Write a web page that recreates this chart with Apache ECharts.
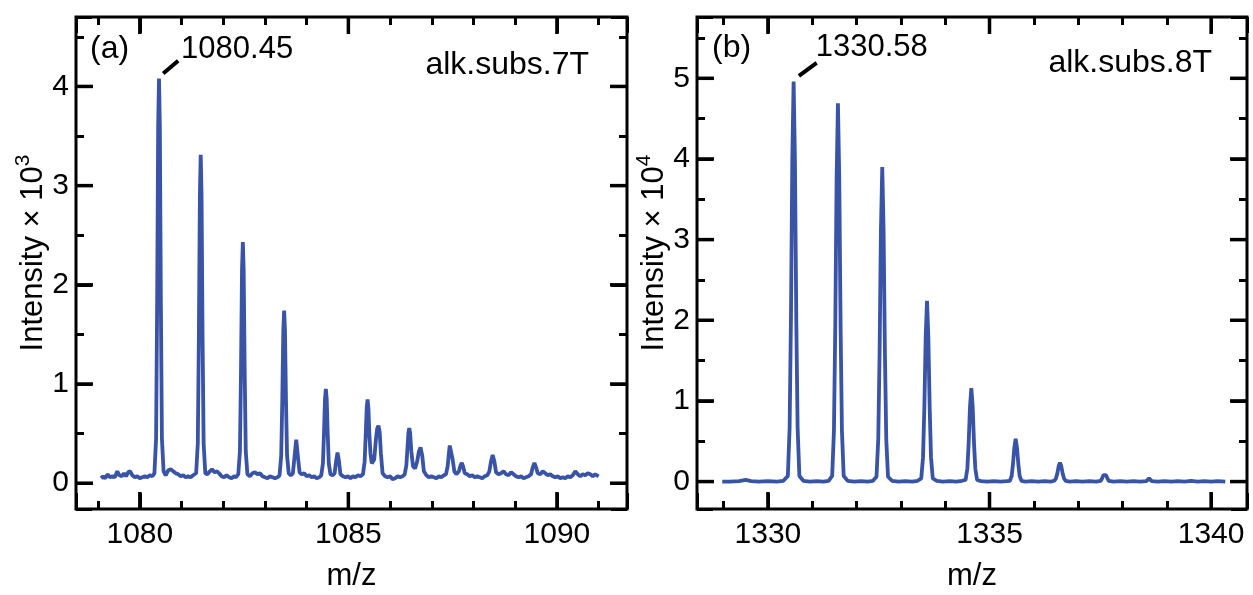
<!DOCTYPE html>
<html><head><meta charset="utf-8">
<script src="https://cdn.jsdelivr.net/npm/echarts@6/dist/echarts.min.js"></script>
<style>html,body{margin:0;padding:0;background:#fff}#c{width:1253px;height:595px}</style>
</head><body><div id="c"></div>
<script>
// ---------- data (m/z, intensity) ----------
const spectrumA = [
[1079.07,0.05],[1079.12,0.07],[1079.17,0.05],[1079.23,0.09],[1079.28,0.06],[1079.34,0.07],[1079.40,0.06],[1079.46,0.12],[1079.51,0.08],[1079.57,0.07],[1079.62,0.10],[1079.67,0.07],[1079.72,0.11],[1079.77,0.12],[1079.82,0.08],[1079.88,0.06],[1079.94,0.07],[1080.00,0.05],[1080.06,0.06],[1080.12,0.07],[1080.18,0.06],[1080.24,0.08],[1080.30,0.07],
[1080.35,0.10],[1080.39,0.45],[1080.415,1.80],[1080.44,3.60],[1080.46,4.08],[1080.48,3.60],[1080.505,1.80],[1080.53,0.45],[1080.57,0.12],
[1080.62,0.08],[1080.68,0.13],[1080.74,0.14],[1080.80,0.12],[1080.86,0.10],[1080.92,0.09],[1080.98,0.07],[1081.04,0.08],[1081.10,0.06],[1081.16,0.07],[1081.22,0.06],[1081.28,0.08],
[1081.35,0.10],[1081.39,0.40],[1081.415,1.45],[1081.44,2.90],[1081.46,3.31],[1081.48,2.90],[1081.505,1.45],[1081.53,0.40],[1081.57,0.10],
[1081.62,0.09],[1081.68,0.12],[1081.73,0.14],[1081.79,0.11],[1081.85,0.12],[1081.90,0.10],[1081.96,0.07],[1082.02,0.06],[1082.08,0.08],[1082.14,0.06],[1082.20,0.05],[1082.26,0.07],[1082.31,0.06],
[1082.36,0.09],[1082.40,0.32],[1082.425,1.10],[1082.45,2.15],[1082.47,2.43],[1082.49,2.15],[1082.515,1.10],[1082.54,0.32],[1082.58,0.09],
[1082.64,0.07],[1082.70,0.10],[1082.76,0.11],[1082.82,0.09],[1082.88,0.10],[1082.94,0.07],[1083.00,0.06],[1083.06,0.05],[1083.12,0.07],[1083.18,0.06],[1083.24,0.05],[1083.30,0.06],
[1083.35,0.08],[1083.39,0.28],[1083.415,0.82],[1083.44,1.54],[1083.46,1.74],[1083.48,1.54],[1083.505,0.82],[1083.53,0.28],[1083.57,0.10],
[1083.62,0.08],[1083.67,0.10],[1083.71,0.27],[1083.75,0.44],[1083.79,0.27],[1083.83,0.11],
[1083.88,0.09],[1083.94,0.10],[1084.00,0.07],[1084.06,0.08],[1084.12,0.06],[1084.18,0.07],[1084.24,0.05],[1084.30,0.06],
[1084.35,0.08],[1084.39,0.20],[1084.415,0.50],[1084.44,0.85],[1084.46,0.95],[1084.48,0.85],[1084.505,0.50],[1084.53,0.20],[1084.57,0.09],
[1084.62,0.08],[1084.67,0.10],[1084.705,0.22],[1084.74,0.31],[1084.775,0.22],[1084.81,0.09],
[1084.87,0.07],[1084.93,0.06],[1084.99,0.07],[1085.05,0.05],[1085.11,0.07],[1085.17,0.06],[1085.23,0.08],[1085.29,0.07],
[1085.35,0.09],[1085.39,0.22],[1085.415,0.48],[1085.44,0.76],[1085.46,0.845],[1085.48,0.76],[1085.505,0.48],[1085.53,0.30],[1085.56,0.20],
[1085.59,0.18],[1085.62,0.24],[1085.66,0.44],[1085.69,0.55],[1085.72,0.58],[1085.75,0.52],[1085.78,0.30],[1085.82,0.10],
[1085.88,0.07],[1085.94,0.06],[1086.00,0.07],[1086.06,0.04],[1086.12,0.05],[1086.18,0.07],[1086.24,0.06],[1086.30,0.07],
[1086.35,0.09],[1086.39,0.18],[1086.42,0.38],[1086.44,0.51],[1086.46,0.555],[1086.48,0.51],[1086.51,0.32],[1086.55,0.17],[1086.60,0.15],
[1086.65,0.22],[1086.69,0.32],[1086.73,0.36],[1086.77,0.28],[1086.81,0.12],
[1086.87,0.08],[1086.93,0.06],[1086.99,0.07],[1087.05,0.06],[1087.11,0.05],[1087.17,0.07],[1087.23,0.06],[1087.29,0.08],
[1087.34,0.09],[1087.38,0.17],[1087.41,0.30],[1087.43,0.38],[1087.45,0.40],[1087.47,0.37],[1087.50,0.24],[1087.54,0.12],[1087.59,0.09],
[1087.65,0.12],[1087.69,0.18],[1087.72,0.205],[1087.75,0.17],[1087.79,0.10],
[1087.85,0.09],[1087.91,0.07],[1087.97,0.08],[1088.03,0.06],[1088.09,0.07],[1088.15,0.06],[1088.21,0.05],[1088.27,0.07],[1088.33,0.08],
[1088.38,0.12],[1088.42,0.22],[1088.46,0.285],[1088.50,0.22],[1088.54,0.11],
[1088.60,0.09],[1088.66,0.10],[1088.72,0.12],[1088.78,0.09],[1088.84,0.08],[1088.90,0.11],[1088.96,0.09],[1089.02,0.07],[1089.08,0.06],[1089.14,0.07],[1089.20,0.05],[1089.26,0.06],[1089.32,0.07],
[1089.38,0.09],[1089.42,0.16],[1089.46,0.205],[1089.50,0.16],[1089.54,0.10],
[1089.60,0.09],[1089.66,0.12],[1089.72,0.10],[1089.78,0.08],[1089.84,0.09],[1089.90,0.07],[1089.96,0.06],[1090.02,0.07],[1090.08,0.05],[1090.14,0.06],[1090.20,0.05],[1090.26,0.07],[1090.32,0.06],[1090.38,0.08],[1090.44,0.12],[1090.50,0.09],[1090.56,0.07],[1090.62,0.09],[1090.68,0.08],[1090.74,0.10],[1090.80,0.09],[1090.86,0.07],[1090.92,0.09],[1091.00,0.07]
];

const spectrumB = [
[1328.97,0.00],[1329.15,0.00],[1329.35,0.005],[1329.50,0.02],[1329.62,0.005],[1329.80,0.00],[1330.00,0.005],[1330.20,0.00],[1330.35,0.01],
[1330.45,0.07],[1330.49,0.67],[1330.52,2.03],[1330.55,3.97],[1330.58,4.96],[1330.61,3.97],[1330.64,2.03],[1330.67,0.67],[1330.71,0.07],
[1330.80,0.01],[1330.95,0.00],[1331.10,0.005],[1331.25,0.00],[1331.37,0.01],
[1331.45,0.07],[1331.49,0.63],[1331.52,1.92],[1331.55,3.75],[1331.58,4.69],[1331.61,3.75],[1331.64,1.92],[1331.67,0.63],[1331.71,0.07],
[1331.80,0.01],[1331.95,0.00],[1332.10,0.005],[1332.25,0.00],[1332.37,0.01],
[1332.45,0.06],[1332.49,0.53],[1332.52,1.60],[1332.55,3.12],[1332.58,3.90],[1332.61,3.12],[1332.64,1.60],[1332.67,0.53],[1332.71,0.06],
[1332.80,0.01],[1332.95,0.00],[1333.10,0.005],[1333.25,0.00],[1333.38,0.01],
[1333.46,0.04],[1333.50,0.30],[1333.53,0.92],[1333.56,1.79],[1333.59,2.24],[1333.62,1.79],[1333.65,0.92],[1333.68,0.30],[1333.72,0.04],
[1333.81,0.01],[1333.95,0.00],[1334.10,0.005],[1334.25,0.00],[1334.38,0.01],
[1334.46,0.02],[1334.50,0.16],[1334.53,0.48],[1334.56,0.93],[1334.59,1.16],[1334.62,0.93],[1334.65,0.48],[1334.68,0.16],[1334.72,0.02],
[1334.81,0.005],[1334.95,0.00],[1335.10,0.005],[1335.25,0.00],[1335.38,0.005],
[1335.46,0.01],[1335.50,0.07],[1335.53,0.22],[1335.56,0.42],[1335.59,0.53],[1335.62,0.42],[1335.65,0.22],[1335.68,0.07],[1335.72,0.01],
[1335.81,0.00],[1335.95,0.005],[1336.10,0.00],[1336.25,0.005],[1336.38,0.00],
[1336.46,0.01],[1336.50,0.04],[1336.53,0.10],[1336.56,0.19],[1336.59,0.235],[1336.62,0.19],[1336.65,0.10],[1336.68,0.04],[1336.72,0.01],
[1336.81,0.00],[1336.95,0.005],[1337.10,0.00],[1337.25,0.005],[1337.40,0.00],
[1337.51,0.01],[1337.54,0.04],[1337.57,0.08],[1337.60,0.10],[1337.63,0.08],[1337.66,0.04],[1337.69,0.01],
[1337.80,0.00],[1337.95,0.005],[1338.10,0.00],[1338.25,0.005],[1338.40,0.00],
[1338.54,0.005],[1338.57,0.02],[1338.60,0.04],[1338.63,0.02],[1338.66,0.005],
[1338.80,0.00],[1338.95,0.005],[1339.10,0.00],[1339.25,0.005],[1339.40,0.00],[1339.55,0.01],[1339.70,0.00],[1339.85,0.005],[1340.00,0.00],[1340.15,0.005],[1340.32,0.00]
];

const xTicksA = [1080, 1085, 1090];
const yTicksA = [0, 1, 2, 3, 4];
const xTicksB = [1330, 1335, 1340];
const yTicksB = [0, 1, 2, 3, 4, 5];
const xRangeA = [1078.47, 1091.68], yRangeA = [-0.26, 4.70];
const xRangeB = [1328.40, 1340.81], yRangeB = [-0.34, 5.76];
const peakLabelA = '1080.45';
const peakLabelB = '1330.58';
const panelTagA = '(a)', panelTagB = '(b)';
const sampleA = 'alk.subs.7T', sampleB = 'alk.subs.8T';
const xTitle = 'm/z';
const yExpA = '3', yExpB = '4';

// ---------- chart ----------
const FONT = '"Liberation Sans", Arial, sans-serif';
const BLUE = '#3953a6';
const chart = echarts.init(document.getElementById('c'));
const plain = v => String(v);

function xAxis(grid, range, ticks, opposite) {
  return {
    type: 'value', gridIndex: grid, min: range[0], max: range[1], splitNumber: 3,
    position: opposite ? 'top' : 'bottom',
    axisLine: {show: false, onZero: false}, splitLine: {show: false},
    axisTick: {show: true, inside: true, length: 16, lineStyle: {color: '#000', width: 3}},
    minorTick: {show: true, splitNumber: 5, length: 8, lineStyle: {color: '#000', width: 3}},
    axisLabel: {show: !opposite, customValues: ticks, margin: 11, color: '#000',
                fontSize: 30, fontFamily: FONT, formatter: plain}
  };
}
function yAxis(grid, range, split, ticks, opposite) {
  return {
    type: 'value', gridIndex: grid, min: range[0], max: range[1], splitNumber: split,
    position: opposite ? 'right' : 'left',
    axisLine: {show: false, onZero: false}, splitLine: {show: false},
    axisTick: {show: true, inside: true, length: 16, lineStyle: {color: '#000', width: 3}},
    minorTick: {show: true, splitNumber: 2, length: 8, lineStyle: {color: '#000', width: 3}},
    axisLabel: {show: !opposite, customValues: ticks, margin: 7, color: '#000',
                fontSize: 30, fontFamily: FONT, formatter: plain}
  };
}
function spectrum(xi, yi, data, lineFrom, lineTo, labelAt, labelText) {
  return {
    type: 'line', xAxisIndex: xi, yAxisIndex: yi, data: data,
    showSymbol: false, animation: false,
    lineStyle: {color: BLUE, width: 3.8}, itemStyle: {color: BLUE},
    markLine: {
      silent: true, animation: false, symbol: ['none', 'none'],
      label: {show: false},
      lineStyle: {color: '#000', width: 4, type: 'solid'},
      data: [[{coord: lineFrom}, {coord: lineTo}]]
    },
    markPoint: {
      silent: true, animation: false, symbol: 'circle', symbolSize: 0,
      itemStyle: {color: 'rgba(0,0,0,0)'},
      label: {show: true, position: 'right', distance: 0, formatter: labelText,
              color: '#000', fontSize: 31, fontFamily: FONT},
      data: [{coord: labelAt}]
    }
  };
}
// major ticks (inward, on all four sides) placed through the axes' scales
function majorTicks(xi, yi, xTicks, yTicks, xr, yr) {
  const data = xTicks.map(v => [v, 0]).concat(yTicks.map(v => [v, 1]));
  return {
    type: 'custom', xAxisIndex: xi, yAxisIndex: yi, silent: true, animation: false, z: 5,
    clip: false, data: data,
    renderItem: function (params, api) {
      const v = api.value(0), kind = api.value(1), L = 17;
      const st = {stroke: '#000', lineWidth: 3.5, fill: null};
      if (kind === 0) {
        const b = api.coord([v, yr[0]]), t = api.coord([v, yr[1]]);
        return {type: 'group', children: [
          {type: 'line', shape: {x1: b[0], y1: b[1], x2: b[0], y2: b[1] - L}, style: st},
          {type: 'line', shape: {x1: t[0], y1: t[1], x2: t[0], y2: t[1] + L}, style: st}
        ]};
      }
      const l = api.coord([xr[0], v]), r = api.coord([xr[1], v]);
      return {type: 'group', children: [
        {type: 'line', shape: {x1: l[0], y1: l[1], x2: l[0] + L, y2: l[1]}, style: st},
        {type: 'line', shape: {x1: r[0], y1: r[1], x2: r[0] - L, y2: r[1]}, style: st}
      ]};
    }
  };
}
function txt(x, y, text, size, align) {
  return {type: 'text', x: x, y: y, silent: true,
    style: {text: text, fontSize: size, fontFamily: FONT, fill: '#000', align: align, verticalAlign: 'middle'}};
}
function yTitle(x, y, exp) {
  return {type: 'text', x: x, y: y, rotation: Math.PI / 2, silent: true,
    style: {text: '{m|Intensity × 10}{s|' + exp + '}', align: 'center', verticalAlign: 'middle',
      fill: '#000', fontSize: 31, fontFamily: FONT,
      rich: {
        m: {fontSize: 31, fontFamily: FONT, fill: '#000', lineHeight: 40},
        s: {fontSize: 21, fontFamily: FONT, fill: '#000', lineHeight: 20, verticalAlign: 'top'}
      }}};
}

const gs = {show: true, borderColor: '#000', borderWidth: 3};

chart.setOption({
  animation: false,
  grid: [
    Object.assign({left: 76, top: 17, width: 551, height: 492}, gs),
    Object.assign({left: 697, top: 17, width: 550, height: 492}, gs)
  ],
  xAxis: [
    xAxis(0, xRangeA, xTicksA, false),
    xAxis(0, xRangeA, xTicksA, true),
    xAxis(1, xRangeB, xTicksB, false),
    xAxis(1, xRangeB, xTicksB, true)
  ],
  yAxis: [
    yAxis(0, yRangeA, 5, yTicksA, false),
    yAxis(0, yRangeA, 5, yTicksA, true),
    yAxis(1, yRangeB, 6, yTicksB, false),
    yAxis(1, yRangeB, 6, yTicksB, true)
  ],
  series: [
    spectrum(0, 0, spectrumA, [1080.56, 4.13], [1080.92, 4.26], [1080.99, 4.37], peakLabelA),
    spectrum(2, 2, spectrumB, [1330.70, 5.03], [1331.10, 5.19], [1331.08, 5.38], peakLabelB),
    majorTicks(0, 0, xTicksA, yTicksA, xRangeA, yRangeA),
    majorTicks(2, 2, xTicksB, yTicksB, xRangeB, yRangeB)
  ],
  graphic: [
    txt(90, 49, panelTagA, 32, 'left'),
    txt(589, 65, sampleA, 32, 'right'),
    txt(712, 48, panelTagB, 32, 'left'),
    txt(1212, 63, sampleB, 32, 'right'),
    txt(351.5, 576, xTitle, 31, 'center'),
    txt(972, 576, xTitle, 31, 'center'),
    yTitle(33, 253, yExpA),
    yTitle(654, 253, yExpB)
  ]
});
</script></body></html>
